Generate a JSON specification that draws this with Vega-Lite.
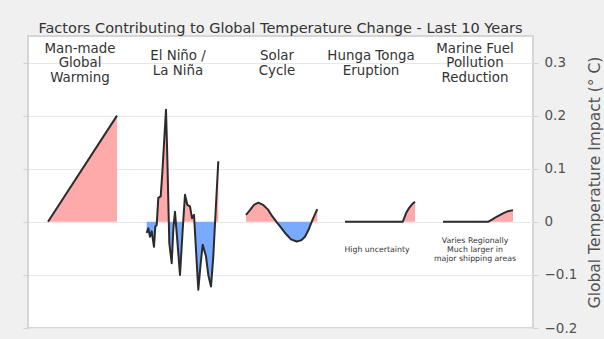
{
  "$schema": "https://vega.github.io/schema/vega-lite/v6.json",
  "width": 505,
  "height": 292,
  "autosize": {"type": "none"},
  "padding": {"left": 28, "top": 36, "right": 71, "bottom": 11},
  "background": "#f0f0f0",
  "config": {
    "view": {"fill": "white", "stroke": "#d6d6d6", "strokeWidth": 2},
    "font": "DejaVu Sans"
  },
  "title": {
    "text": "Factors Contributing to Global Temperature Change - Last 10 Years",
    "font": "DejaVu Sans",
    "fontSize": 14.5,
    "fontWeight": "normal",
    "color": "#333333",
    "anchor": "middle",
    "baseline": "alphabetic",
    "offset": 5,
    "dy": 16
  },
  "datasets": {
    "curves": [
      {"s": "mm", "seg": "mm", "sign": "pos", "t": 20, "v": 0},
      {"s": "mm", "seg": "mm", "sign": "pos", "t": 89, "v": 0.2},

      {"s": "enso", "seg": "e1", "sign": "neg", "t": 118.7, "v": -0.021},
      {"s": "enso", "seg": "e1", "sign": "neg", "t": 120.3, "v": -0.012},
      {"s": "enso", "seg": "e1", "sign": "neg", "t": 122, "v": -0.028},
      {"s": "enso", "seg": "e1", "sign": "neg", "t": 123.7, "v": -0.018},
      {"s": "enso", "seg": "e1", "sign": "neg", "t": 126, "v": -0.047},
      {"s": "enso", "seg": "e1", "sign": "neg", "t": 127.3, "v": -0.009},
      {"s": "enso", "seg": "e1", "sign": "neg", "t": 128.7, "v": -0.006},
      {"s": "enso", "seg": "e1", "sign": "neg", "t": 128.9, "v": 0},
      {"s": "enso", "seg": "e2", "sign": "pos", "t": 128.9, "v": 0},
      {"s": "enso", "seg": "e2", "sign": "pos", "t": 130.3, "v": 0.045},
      {"s": "enso", "seg": "e2", "sign": "pos", "t": 132.7, "v": 0.048},
      {"s": "enso", "seg": "e2", "sign": "pos", "t": 134.3, "v": 0.092},
      {"s": "enso", "seg": "e2", "sign": "pos", "t": 138, "v": 0.211},
      {"s": "enso", "seg": "e2", "sign": "pos", "t": 139.3, "v": 0.123},
      {"s": "enso", "seg": "e2", "sign": "pos", "t": 140.8, "v": 0},
      {"s": "enso", "seg": "e3", "sign": "neg", "t": 140.8, "v": 0},
      {"s": "enso", "seg": "e3", "sign": "neg", "t": 141.3, "v": -0.04},
      {"s": "enso", "seg": "e3", "sign": "neg", "t": 143.7, "v": -0.078},
      {"s": "enso", "seg": "e3", "sign": "neg", "t": 145.3, "v": -0.015},
      {"s": "enso", "seg": "e3", "sign": "neg", "t": 146, "v": 0},
      {"s": "enso", "seg": "e4", "sign": "pos", "t": 146, "v": 0},
      {"s": "enso", "seg": "e4", "sign": "pos", "t": 147, "v": 0.019},
      {"s": "enso", "seg": "e4", "sign": "pos", "t": 147.8, "v": 0},
      {"s": "enso", "seg": "e5", "sign": "neg", "t": 147.8, "v": 0},
      {"s": "enso", "seg": "e5", "sign": "neg", "t": 148.7, "v": -0.021},
      {"s": "enso", "seg": "e5", "sign": "neg", "t": 152, "v": -0.1},
      {"s": "enso", "seg": "e5", "sign": "neg", "t": 154.7, "v": -0.015},
      {"s": "enso", "seg": "e5", "sign": "neg", "t": 155.2, "v": 0},
      {"s": "enso", "seg": "e6", "sign": "pos", "t": 155.2, "v": 0},
      {"s": "enso", "seg": "e6", "sign": "pos", "t": 157, "v": 0.051},
      {"s": "enso", "seg": "e6", "sign": "pos", "t": 159.3, "v": 0.032},
      {"s": "enso", "seg": "e6", "sign": "pos", "t": 162, "v": 0.029},
      {"s": "enso", "seg": "e6", "sign": "pos", "t": 164, "v": 0.007},
      {"s": "enso", "seg": "e6", "sign": "pos", "t": 166, "v": 0.013},
      {"s": "enso", "seg": "e6", "sign": "pos", "t": 166.4, "v": 0},
      {"s": "enso", "seg": "e7", "sign": "neg", "t": 166.4, "v": 0},
      {"s": "enso", "seg": "e7", "sign": "neg", "t": 168, "v": -0.053},
      {"s": "enso", "seg": "e7", "sign": "neg", "t": 170.3, "v": -0.128},
      {"s": "enso", "seg": "e7", "sign": "neg", "t": 172.7, "v": -0.078},
      {"s": "enso", "seg": "e7", "sign": "neg", "t": 174.7, "v": -0.043},
      {"s": "enso", "seg": "e7", "sign": "neg", "t": 178, "v": -0.065},
      {"s": "enso", "seg": "e7", "sign": "neg", "t": 180.3, "v": -0.1},
      {"s": "enso", "seg": "e7", "sign": "neg", "t": 183, "v": -0.122},
      {"s": "enso", "seg": "e7", "sign": "neg", "t": 185.3, "v": -0.065},
      {"s": "enso", "seg": "e7", "sign": "neg", "t": 187.1, "v": 0},
      {"s": "enso", "seg": "e8", "sign": "pos", "t": 187.1, "v": 0},
      {"s": "enso", "seg": "e8", "sign": "pos", "t": 190.3, "v": 0.114},

      {"s": "solar", "seg": "s1", "sign": "pos", "t": 218, "v": 0.013},
      {"s": "solar", "seg": "s1", "sign": "pos", "t": 222, "v": 0.022},
      {"s": "solar", "seg": "s1", "sign": "pos", "t": 226, "v": 0.032},
      {"s": "solar", "seg": "s1", "sign": "pos", "t": 230.3, "v": 0.036},
      {"s": "solar", "seg": "s1", "sign": "pos", "t": 235, "v": 0.032},
      {"s": "solar", "seg": "s1", "sign": "pos", "t": 240, "v": 0.023},
      {"s": "solar", "seg": "s1", "sign": "pos", "t": 244, "v": 0.011},
      {"s": "solar", "seg": "s1", "sign": "pos", "t": 248.5, "v": 0},
      {"s": "solar", "seg": "s2", "sign": "neg", "t": 248.5, "v": 0},
      {"s": "solar", "seg": "s2", "sign": "neg", "t": 253, "v": -0.011},
      {"s": "solar", "seg": "s2", "sign": "neg", "t": 258, "v": -0.023},
      {"s": "solar", "seg": "s2", "sign": "neg", "t": 263, "v": -0.033},
      {"s": "solar", "seg": "s2", "sign": "neg", "t": 268.7, "v": -0.037},
      {"s": "solar", "seg": "s2", "sign": "neg", "t": 273, "v": -0.035},
      {"s": "solar", "seg": "s2", "sign": "neg", "t": 277, "v": -0.028},
      {"s": "solar", "seg": "s2", "sign": "neg", "t": 281, "v": -0.013},
      {"s": "solar", "seg": "s2", "sign": "neg", "t": 283.7, "v": 0},
      {"s": "solar", "seg": "s3", "sign": "pos", "t": 283.7, "v": 0},
      {"s": "solar", "seg": "s3", "sign": "pos", "t": 285, "v": 0.006},
      {"s": "solar", "seg": "s3", "sign": "pos", "t": 289.3, "v": 0.024},

      {"s": "hunga", "seg": "h1", "sign": "pos", "t": 317, "v": 0},
      {"s": "hunga", "seg": "h1", "sign": "pos", "t": 374.7, "v": 0},
      {"s": "hunga", "seg": "h1", "sign": "pos", "t": 376, "v": 0.006},
      {"s": "hunga", "seg": "h1", "sign": "pos", "t": 378, "v": 0.016},
      {"s": "hunga", "seg": "h1", "sign": "pos", "t": 381, "v": 0.026},
      {"s": "hunga", "seg": "h1", "sign": "pos", "t": 384, "v": 0.033},
      {"s": "hunga", "seg": "h1", "sign": "pos", "t": 387, "v": 0.038},

      {"s": "marine", "seg": "m1", "sign": "pos", "t": 415, "v": 0},
      {"s": "marine", "seg": "m1", "sign": "pos", "t": 460, "v": 0},
      {"s": "marine", "seg": "m1", "sign": "pos", "t": 464, "v": 0.004},
      {"s": "marine", "seg": "m1", "sign": "pos", "t": 469, "v": 0.01},
      {"s": "marine", "seg": "m1", "sign": "pos", "t": 475, "v": 0.016},
      {"s": "marine", "seg": "m1", "sign": "pos", "t": 480, "v": 0.02},
      {"s": "marine", "seg": "m1", "sign": "pos", "t": 485, "v": 0.022}
    ],
    "headers": [
      {"t": 52, "v": 0.326, "label": "Man-made\nGlobal\nWarming"},
      {"t": 150, "v": 0.312, "label": "El Niño /\nLa Niña"},
      {"t": 249, "v": 0.312, "label": "Solar\nCycle"},
      {"t": 343, "v": 0.312, "label": "Hunga Tonga\nEruption"},
      {"t": 447, "v": 0.326, "label": "Marine Fuel\nPollution\nReduction"}
    ],
    "notes": [
      {"t": 349, "v": -0.053, "label": "High uncertainty"},
      {"t": 447, "v": -0.036, "label": "Varies Regionally\nMuch larger in\nmajor shipping areas"}
    ]
  },
  "layer": [
    {
      "data": {"name": "curves"},
      "mark": {"type": "area", "opacity": 1},
      "encoding": {
        "x": {"field": "t", "type": "quantitative", "scale": {"domain": [0, 505]}, "axis": null},
        "y": {
          "field": "v", "type": "quantitative",
          "scale": {"domain": [-0.2, 0.35], "nice": false, "zero": false},
          "axis": {
            "orient": "left", "values": [-0.2, -0.1, 0, 0.1, 0.2, 0.3],
            "grid": true, "gridColor": "#e8e8e8", "gridWidth": 1,
            "labels": false, "domain": false, "ticks": true,
            "tickColor": "#d0d0d0", "tickSize": 5, "title": null
          }
        },
        "y2": {"datum": 0},
        "color": {
          "field": "sign", "type": "nominal",
          "scale": {"domain": ["pos", "neg"], "range": ["#ffaaaa", "#78aaff"]},
          "legend": null
        },
        "detail": {"field": "seg"}
      }
    },
    {
      "data": {"name": "curves"},
      "mark": {"type": "line", "color": "#2b2b2b", "strokeWidth": 2, "strokeJoin": "round"},
      "encoding": {
        "x": {"field": "t", "type": "quantitative", "scale": {"domain": [0, 505]}, "axis": null},
        "y": {
          "field": "v", "type": "quantitative",
          "scale": {"domain": [-0.2, 0.35], "nice": false, "zero": false},
          "axis": {
            "orient": "right", "values": [-0.2, -0.1, 0, 0.1, 0.2, 0.3],
            "format": ".1~f", "grid": false, "domain": false,
            "tickColor": "#d0d0d0", "tickSize": 5, "labelPadding": 6,
            "labelFont": "DejaVu Sans", "labelFontSize": 13.5, "labelColor": "#505050",
            "labelOverlap": false, "labelFlush": false,
            "title": "Global Temperature Impact (° C)",
            "titleFont": "DejaVu Sans", "titleFontSize": 15.5, "titleFontWeight": "normal",
            "titleColor": "#505050", "titleAngle": 270, "titleX": 61, "titleY": 146,
            "titleAlign": "center", "titleBaseline": "middle"
          }
        },
        "detail": {"field": "s"}
      }
    },
    {
      "data": {"name": "headers"},
      "mark": {"type": "text", "fontSize": 13.4, "lineBreak": "\n", "lineHeight": 14.5, "align": "center", "baseline": "middle", "color": "#333333", "font": "DejaVu Sans"},
      "encoding": {
        "x": {"field": "t", "type": "quantitative", "scale": {"domain": [0, 505]}, "axis": null},
        "y": {"field": "v", "type": "quantitative", "scale": {"domain": [-0.2, 0.35], "nice": false, "zero": false}, "axis": null},
        "text": {"field": "label"}
      }
    },
    {
      "data": {"name": "notes"},
      "mark": {"type": "text", "fontSize": 7.8, "lineBreak": "\n", "lineHeight": 9, "align": "center", "baseline": "middle", "color": "#333333", "font": "DejaVu Sans"},
      "encoding": {
        "x": {"field": "t", "type": "quantitative", "scale": {"domain": [0, 505]}, "axis": null},
        "y": {"field": "v", "type": "quantitative", "scale": {"domain": [-0.2, 0.35], "nice": false, "zero": false}, "axis": null},
        "text": {"field": "label"}
      }
    }
  ],
  "resolve": {"scale": {"y": "independent"}, "axis": {"y": "independent"}}
}
